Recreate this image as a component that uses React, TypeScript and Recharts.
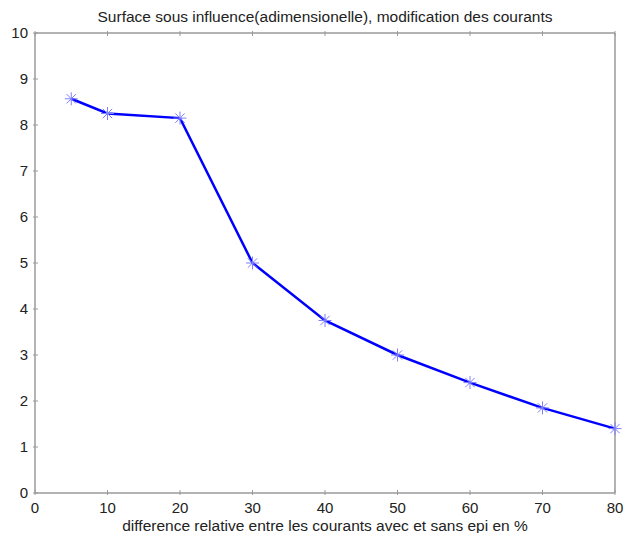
import React from 'react';
import { LineChart, Line, XAxis, YAxis } from 'recharts';

const xValues = [5, 10, 20, 30, 40, 50, 60, 70, 80];
const yValues = [8.57, 8.25, 8.15, 5.0, 3.75, 3.0, 2.4, 1.85, 1.4];
const xTicks = [0, 10, 20, 30, 40, 50, 60, 70, 80];
const yTicks = [0, 1, 2, 3, 4, 5, 6, 7, 8, 9, 10];
const title = 'Surface sous influence(adimensionelle), modification des courants';
const xLabel = 'difference relative entre les courants avec et sans epi en %';

const data = xValues.map((x, i) => ({ x, y: yValues[i] }));

const FONT = 'Liberation Sans, Arial, sans-serif';
const AXIS = '#9a9a9a';
const TICK = 5;

const BottomTick = (props: any) => {
  const { x, y, payload } = props;
  return (
    <g>
      <line x1={x} y1={y} x2={x} y2={y - TICK} stroke={AXIS} />
      <text x={x} y={y + 18} textAnchor="middle" fontSize={15} fontFamily={FONT} fill="#222">
        {payload.value}
      </text>
    </g>
  );
};
const TopTick = (props: any) => {
  const { x, y } = props;
  return <line x1={x} y1={y} x2={x} y2={y + TICK} stroke={AXIS} />;
};
const LeftTick = (props: any) => {
  const { x, y, payload } = props;
  return (
    <g>
      <line x1={x} y1={y} x2={x + TICK} y2={y} stroke={AXIS} />
      <text x={x - 5} y={y + 5} textAnchor="end" fontSize={15} fontFamily={FONT} fill="#222">
        {payload.value}
      </text>
    </g>
  );
};
const RightTick = (props: any) => {
  const { x, y } = props;
  return <line x1={x} y1={y} x2={x - TICK} y2={y} stroke={AXIS} />;
};

const Star = (props: any) => {
  const { cx, cy } = props;
  const r = 6.5;
  const d = r * 0.72;
  const c = '#8080ff';
  return (
    <g>
      <line x1={cx - r} y1={cy} x2={cx + r} y2={cy} stroke={c} strokeWidth={1} />
      <line x1={cx} y1={cy - r} x2={cx} y2={cy + r} stroke={c} strokeWidth={1} />
      <line x1={cx - d} y1={cy - d} x2={cx + d} y2={cy + d} stroke={c} strokeWidth={1} />
      <line x1={cx - d} y1={cy + d} x2={cx + d} y2={cy - d} stroke={c} strokeWidth={1} />
    </g>
  );
};

export default function App() {
  return (
    <div style={{ position: 'absolute', left: 0, top: 0, width: 626, height: 533, background: '#fff' }}>
      <LineChart width={626} height={533} data={data} margin={{ top: 32, right: 10, left: 0, bottom: 0 }}>
        <text x={325} y={22} textAnchor="middle" fontSize={15.5} fontFamily={FONT} fill="#222">
          {title}
        </text>
        <text x={325} y={530.5} textAnchor="middle" fontSize={15.5} fontFamily={FONT} fill="#222">
          {xLabel}
        </text>
        <XAxis
          xAxisId="b"
          dataKey="x"
          type="number"
          domain={[0, 80]}
          ticks={xTicks}
          orientation="bottom"
          height={40}
          stroke={AXIS}
          strokeWidth={1.5}
          tickLine={false}
          tickSize={0}
          tick={<BottomTick />}
          interval={0}
        />
        <XAxis
          xAxisId="t"
          dataKey="x"
          type="number"
          domain={[0, 80]}
          ticks={xTicks}
          orientation="top"
          height={1}
          stroke={AXIS}
          strokeWidth={1.5}
          tickLine={false}
          tickSize={0}
          tick={<TopTick />}
          interval={0}
        />
        <YAxis
          yAxisId="l"
          type="number"
          domain={[0, 10]}
          ticks={yTicks}
          width={35}
          stroke={AXIS}
          strokeWidth={1.5}
          tickLine={false}
          tickSize={0}
          tick={<LeftTick />}
          interval={0}
        />
        <YAxis
          yAxisId="r"
          orientation="right"
          type="number"
          domain={[0, 10]}
          ticks={yTicks}
          width={1}
          stroke={AXIS}
          strokeWidth={1.5}
          tickLine={false}
          tickSize={0}
          tick={<RightTick />}
          interval={0}
        />
        <Line
          xAxisId="b"
          yAxisId="l"
          dataKey="y"
          stroke="#0000ff"
          strokeWidth={2.5}
          dot={<Star />}
          activeDot={false}
          isAnimationActive={false}
        />
      </LineChart>
    </div>
  );
}
